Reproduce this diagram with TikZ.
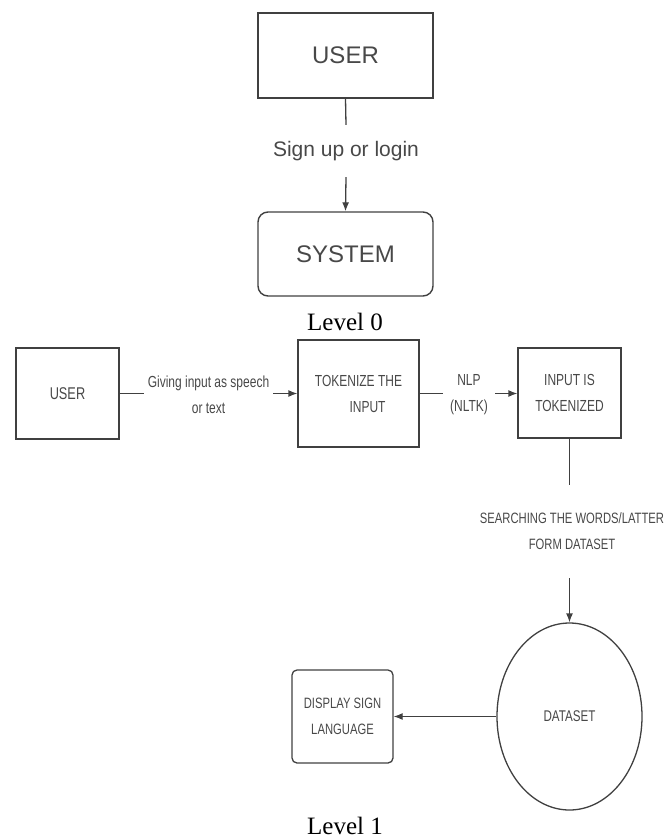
\documentclass[tikz,border=0pt]{standalone}
\usepackage{fontspec}
\usetikzlibrary{arrows.meta,shapes.geometric}
\newfontfamily\arialf{Liberation Sans}
\newfontfamily\narrowf[FakeStretch=0.75]{Liberation Sans}
\newfontfamily\timesf{Liberation Serif}
\definecolor{txtgray}{HTML}{484848}
\definecolor{linegray}{HTML}{404040}
\tikzset{
  bigbox/.style={draw=linegray, line width=1.4pt, minimum width=175pt, minimum height=85pt, inner sep=0pt,
    font=\arialf\fontsize{24}{28}\selectfont, text=txtgray},
  smallbox/.style={draw=linegray, line width=1.3pt, inner sep=0pt, align=center,
    font=\narrowf\fontsize{15}{26}\selectfont, text=txtgray},
  lbl/.style={inner sep=0pt, align=center, font=\narrowf\fontsize{15}{26}\selectfont, text=txtgray},
  conn/.style={draw=linegray, line width=1.3pt},
  arr/.style={conn, -{Latex[length=9pt,width=7pt]}},
  caption/.style={inner sep=0pt, font=\timesf\fontsize{25}{28}\selectfont, text=black}
}
\begin{document}
\begin{tikzpicture}[x=1pt,y=-1pt]
\useasboundingbox (0,0) rectangle (667,840);
% Level 0
\node[bigbox] (u0) at (345.5,55.5) {USER};
\node[bigbox, rounded corners=10pt, minimum height=84pt] (s0) at (345.5,254) {SYSTEM};
\node[inner sep=0pt, minimum height=52pt, font=\arialf\fontsize{21}{24}\selectfont, text=txtgray] (l0) at (346,151) {Sign up or login};
\draw[conn] (u0.south) -- (l0.north);
\draw[arr] (l0.south) -- (s0.north);
\node[caption] (cap0) at (345,322) {Level 0};
% Level 1
\node[smallbox, minimum width=103pt, minimum height=91pt, font=\narrowf\fontsize{17}{26}\selectfont] (u1) at (67.5,393.5) {USER};
\node[smallbox, minimum width=121pt, minimum height=107pt, font=\narrowf\fontsize{16}{26}\selectfont] (t1) at (358.5,393.5) {TOKENIZE THE\\\hspace*{18pt}INPUT};
\node[smallbox, minimum width=103pt, minimum height=90pt, font=\narrowf\fontsize{16}{26}\selectfont] (i1) at (569.5,393) {INPUT IS\\TOKENIZED};
\node[lbl, minimum width=129pt, font=\narrowf\fontsize{16}{26}\selectfont] (l1) at (208.5,395) {Giving input as speech\\or text};
\node[lbl, minimum width=52pt, font=\narrowf\fontsize{16}{26}\selectfont] (l2) at (469,395) {NLP\\(NLTK)};
\draw[conn] (u1.east) -- (u1.east -| l1.west);
\draw[arr] (t1.west -| l1.east) -- (t1.west);
\draw[conn] (t1.east) -- (t1.east -| l2.west);
\draw[arr] (t1.east -| l2.east) -- (i1.west |- t1.east);
\node[lbl, minimum height=93pt] (l3) at (572,531.5) {SEARCHING THE WORDS/LATTER\\FORM DATASET};
\node[ellipse, draw=linegray, line width=1.3pt, minimum width=145pt, minimum height=187pt, inner sep=0pt,
  font=\narrowf\fontsize{15.5}{26}\selectfont, text=txtgray] (ds) at (569.5,716.5) {DATASET};
\node[smallbox, rounded corners=5pt, minimum width=101pt, minimum height=93pt] (d1) at (342.5,716.5) {DISPLAY SIGN\\LANGUAGE};
\draw[conn] (i1.south) -- (i1.south |- l3.north);
\draw[arr] (ds.north |- l3.south) -- (ds.north);
\draw[arr] (ds.west) -- (d1.east);
\node[caption] (cap1) at (345,826) {Level 1};
\end{tikzpicture}
\end{document}
